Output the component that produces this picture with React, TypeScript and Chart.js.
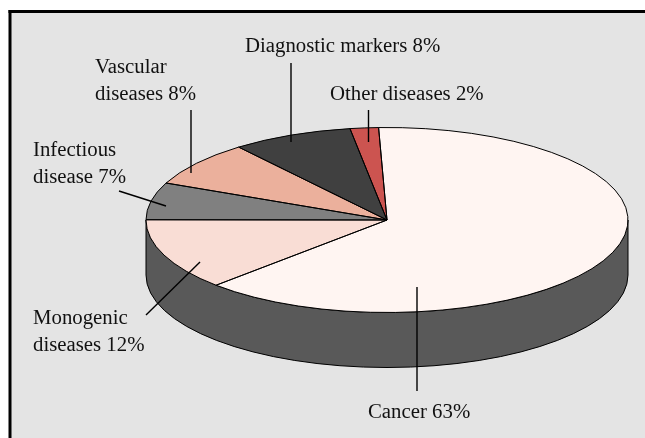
import React, { useEffect, useRef } from "react";
import { Chart, registerables } from "chart.js";

Chart.register(...registerables);

const categories = ["Cancer", "Monogenic diseases", "Infectious disease", "Vascular diseases", "Diagnostic markers", "Other diseases"];
const values = [63.1, 12.5, 6.5, 7.9, 8.1, 1.9];
const sliceColors = ["#fff5f2", "#f9ddd5", "#808080", "#ebb09c", "#404040", "#cc5450"];
const labelLines = [
  ["Cancer 63%"],
  ["Monogenic", "diseases 12%"],
  ["Infectious", "disease 7%"],
  ["Vascular", "diseases 8%"],
  ["Diagnostic markers 8%"],
  ["Other diseases 2%"],
];
const labelPositions = [
  [368, 418],
  [33, 324],
  [33, 156],
  [95, 73],
  [245, 52],
  [330, 100],
];
const leaders = [
  [417, 287, 417, 391],
  [200, 262, 146, 315],
  [166, 206, 119, 191],
  [191, 173, 191, 110],
  [291, 142, 291, 63],
  [368.5, 142, 368.5, 110],
];

const CX = 387;
const CY = 220;
const RX = 241;
const RY = 92.5;
const DEPTH = 55;
const FONT = '20.8px "Liberation Serif", "Times New Roman", serif';

const piePlugin = {
  id: "pie3d",
  beforeDraw(chart: any) {
    const { ctx, width, height } = chart;
    ctx.save();
    ctx.fillStyle = "#ffffff";
    ctx.fillRect(0, 0, width, height);
    ctx.fillStyle = "#e4e4e4";
    ctx.fillRect(11, 13, width - 11, height - 13);
    ctx.fillStyle = "#000000";
    ctx.fillRect(8.5, 10, width - 8.5, 3);
    ctx.fillRect(8.5, 10, 3, height - 10);
    ctx.restore();
  },
  beforeDatasetsDraw(chart: any) {
    const { ctx } = chart;
    const arc0 = chart.getDatasetMeta(0).data[0];
    // side wall
    ctx.save();
    ctx.beginPath();
    ctx.ellipse(CX, CY, RX, RY, 0, 0, Math.PI);
    ctx.lineTo(CX - RX, CY + DEPTH);
    ctx.ellipse(CX, CY + DEPTH, RX, RY, 0, Math.PI, 0, true);
    ctx.closePath();
    ctx.fillStyle = "#595959";
    ctx.fill();
    ctx.strokeStyle = "#000000";
    ctx.lineWidth = 1;
    ctx.stroke();
    ctx.restore();
    // squash the library's round pie into the tilted ellipse
    ctx.save();
    ctx.translate(CX, CY);
    ctx.scale(RX / arc0.outerRadius, RY / arc0.outerRadius);
    ctx.translate(-arc0.x, -arc0.y);
  },
  afterDatasetsDraw(chart: any) {
    const { ctx } = chart;
    ctx.restore();
    const meta = chart.getDatasetMeta(0);
    ctx.save();
    ctx.strokeStyle = "#000000";
    ctx.lineWidth = 1;
    meta.data.forEach((arc: any) => {
      ctx.beginPath();
      ctx.moveTo(CX, CY);
      ctx.ellipse(CX, CY, RX, RY, 0, arc.startAngle, arc.endAngle);
      ctx.closePath();
      ctx.stroke();
    });
    // leaders
    ctx.lineWidth = 1.4;
    leaders.forEach(([x1, y1, x2, y2]) => {
      ctx.beginPath();
      ctx.moveTo(x1, y1);
      ctx.lineTo(x2, y2);
      ctx.stroke();
    });
    // labels
    ctx.fillStyle = "#111111";
    ctx.font = FONT;
    ctx.textAlign = "left";
    ctx.textBaseline = "alphabetic";
    labelLines.forEach((lines, i) => {
      lines.forEach((line, j) => {
        ctx.fillText(line, labelPositions[i][0], labelPositions[i][1] + j * 27);
      });
    });
    ctx.restore();
  },
};

export default function App() {
  const ref = useRef<HTMLCanvasElement | null>(null);
  useEffect(() => {
    document.body.style.margin = "0";
    const chart = new Chart(ref.current as HTMLCanvasElement, {
      type: "pie",
      data: {
        labels: categories,
        datasets: [{ data: values, backgroundColor: sliceColors, borderWidth: 0 }],
      },
      options: {
        responsive: false,
        animation: false,
        rotation: -2,
        plugins: { legend: { display: false }, tooltip: { enabled: false } },
      },
      plugins: [piePlugin],
    } as any);
    return () => chart.destroy();
  }, []);
  return <canvas ref={ref} width={645} height={438} style={{ display: "block" }} />;
}
